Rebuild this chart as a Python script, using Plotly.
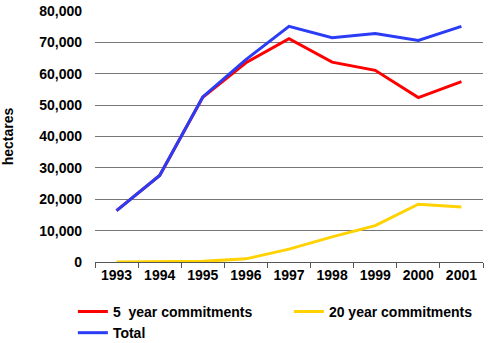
import plotly.graph_objects as go

years = ["1993", "1994", "1995", "1996", "1997", "1998", "1999", "2000", "2001"]
five_year = [16400, 27600, 52500, 63500, 71200, 63700, 61100, 52400, 57500]
twenty_year = [0, 0, 200, 1000, 4100, 8000, 11600, 18400, 17500]
total = [16400, 27600, 52600, 64500, 75100, 71500, 72800, 70600, 75100]
y_ticks = [0, 10000, 20000, 30000, 40000, 50000, 60000, 70000, 80000]

font_family = "Liberation Sans, Arial, sans-serif"

fig = go.Figure()
fig.add_trace(go.Scatter(x=years, y=five_year, name="<b>5  year commitments</b>",
                         mode="lines", line=dict(color="#ff0000", width=3)))
fig.add_trace(go.Scatter(x=years, y=twenty_year, name="<b>20 year commitments</b>",
                         mode="lines", line=dict(color="#ffd200", width=3)))
fig.add_trace(go.Scatter(x=years, y=total, name="<b>Total</b>",
                         mode="lines", line=dict(color="#2a3cf5", width=3)))

fig.update_layout(
    width=490, height=343,
    margin=dict(l=95, r=7, t=11, b=81, autoexpand=False),
    paper_bgcolor="white", plot_bgcolor="white",
    font=dict(family=font_family, size=14, color="black"),
    showlegend=True,
    legend=dict(orientation="h", x=-0.057, xanchor="left", y=-0.135, yanchor="top",
                entrywidth=171, entrywidthmode="pixels", traceorder="normal",
                font=dict(size=14, family=font_family), tracegroupgap=0,
                itemclick=False, bgcolor="rgba(0,0,0,0)"),
    xaxis=dict(type="category", tickson="boundaries", ticks="outside", ticklen=5,
               tickcolor="#555", showgrid=False, showline=True, linecolor="#555",
               linewidth=1, tickfont=dict(size=14), tickprefix="<b>", ticksuffix="</b>",
               range=[-0.5, 8.5]),
    yaxis=dict(range=[0, 80000], tickvals=y_ticks,
               ticktext=[f"<b>{v:,}</b>" for v in y_ticks],
               showgrid=True, gridcolor="#777", gridwidth=1, zeroline=False,
               showline=False, ticks="", ticklabelstandoff=12,
               tickfont=dict(size=14),
               title=dict(text="<b>hectares</b>", font=dict(size=14), standoff=22)),
)

fig.write_html("out.html")
